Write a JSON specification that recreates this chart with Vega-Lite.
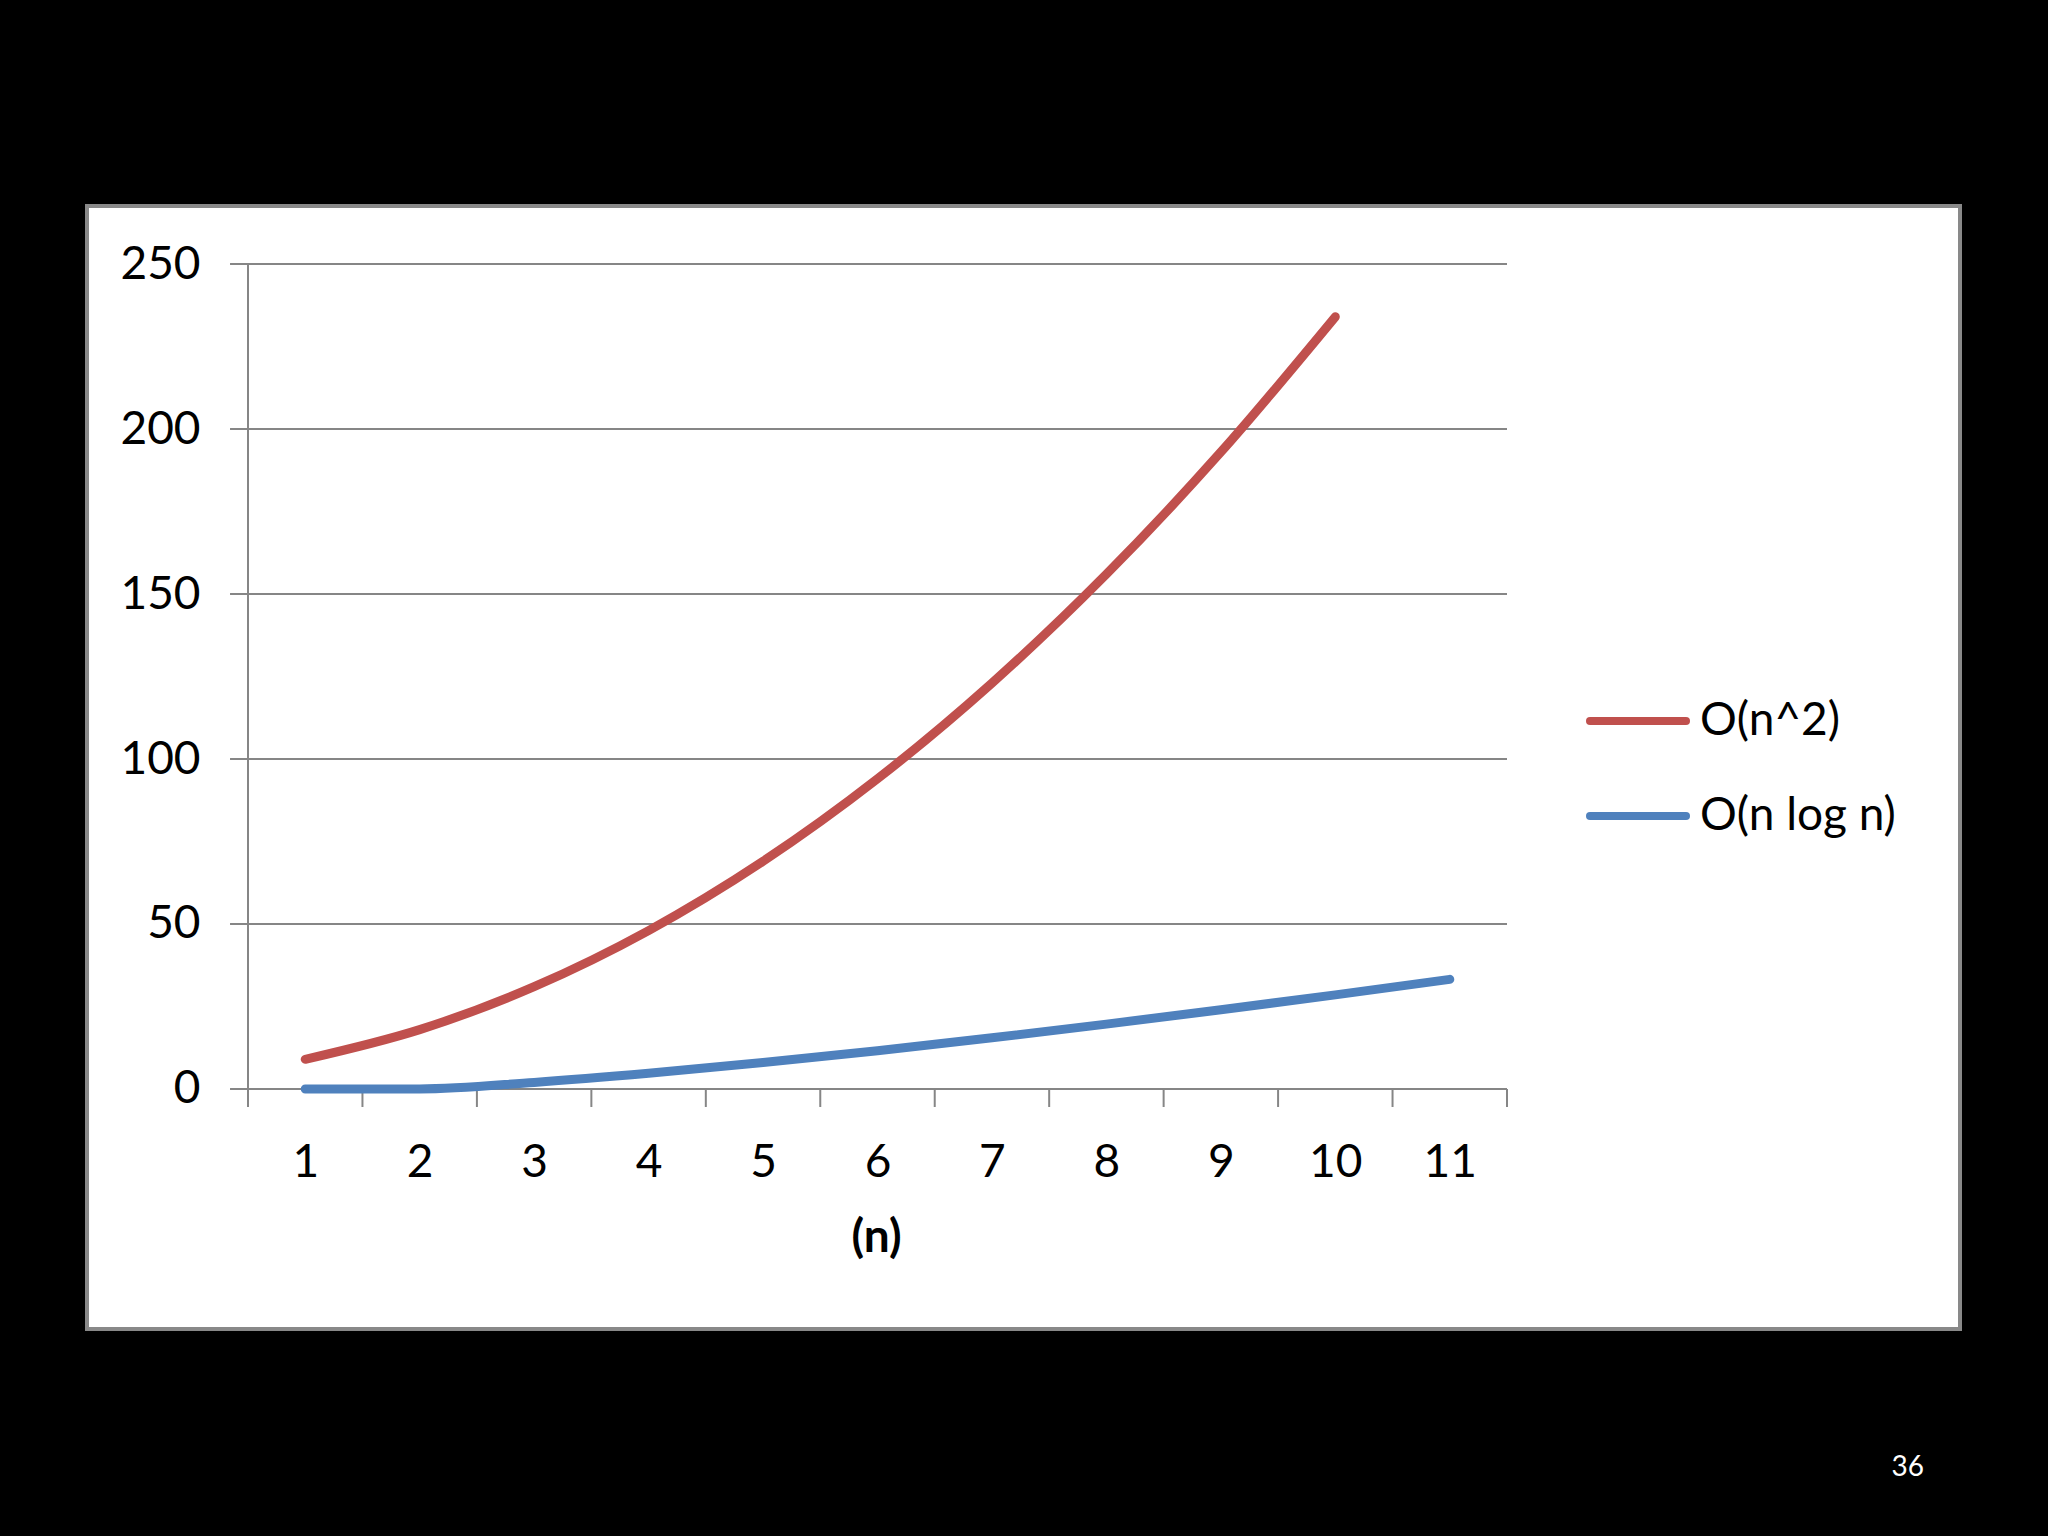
{
  "$schema": "https://vega.github.io/schema/vega-lite/v6.json",
  "width": 1873,
  "height": 1123,
  "autosize": {"type": "none"},
  "padding": {"left": 87, "top": 206, "right": 88, "bottom": 207},
  "background": "#000000",
  "config": {
    "view": {"fill": "#FFFFFF", "stroke": "#898989", "strokeWidth": 4},
    "font": "Lato",
    "axisX": {
      "offset": -240,
      "domain": false, "ticks": false, "tickSize": 0, "grid": false,
      "labelPadding": 87, "labelBaseline": "alphabetic",
      "labelFont": "Lato", "labelFontSize": 46, "labelColor": "#000000",
      "labelFlush": false, "labelOverlap": false,
      "titleFont": "Lato", "titleFontSize": 46, "titleFontWeight": "bold", "titleColor": "#000000",
      "titleX": 789, "titleY": 162, "titleAlign": "center", "titleBaseline": "alphabetic"
    },
    "axisY": {
      "offset": -161,
      "domain": false, "ticks": false, "tickSize": 0, "grid": false,
      "labelPadding": 48, "labelBaseline": "middle",
      "labelFont": "Lato", "labelFontSize": 46, "labelColor": "#000000",
      "labelFlush": false, "labelOverlap": false
    }
  },
  "title": {
    "text": "36",
    "orient": "bottom",
    "anchor": "end",
    "frame": "group",
    "offset": 147,
    "baseline": "alphabetic",
    "dx": -36,
    "color": "#FFFFFF",
    "fontSize": 28,
    "font": "Lato",
    "fontWeight": "normal"
  },
  "datasets": {
    "curves": [
      {"n": 1, "series": "O(n^2)", "value": 9},
      {"n": 2, "series": "O(n^2)", "value": 18},
      {"n": 3, "series": "O(n^2)", "value": 31},
      {"n": 4, "series": "O(n^2)", "value": 48},
      {"n": 5, "series": "O(n^2)", "value": 69},
      {"n": 6, "series": "O(n^2)", "value": 94},
      {"n": 7, "series": "O(n^2)", "value": 123},
      {"n": 8, "series": "O(n^2)", "value": 156},
      {"n": 9, "series": "O(n^2)", "value": 193},
      {"n": 10, "series": "O(n^2)", "value": 234},
      {"n": 1, "series": "O(n log n)", "value": 0},
      {"n": 2, "series": "O(n log n)", "value": 0},
      {"n": 3, "series": "O(n log n)", "value": 2},
      {"n": 4, "series": "O(n log n)", "value": 4.75},
      {"n": 5, "series": "O(n log n)", "value": 8},
      {"n": 6, "series": "O(n log n)", "value": 11.61},
      {"n": 7, "series": "O(n log n)", "value": 15.51},
      {"n": 8, "series": "O(n log n)", "value": 19.65},
      {"n": 9, "series": "O(n log n)", "value": 24},
      {"n": 10, "series": "O(n log n)", "value": 28.53},
      {"n": 11, "series": "O(n log n)", "value": 33.22}
    ],
    "grid": [{"v": 0}, {"v": 50}, {"v": 100}, {"v": 150}, {"v": 200}, {"v": 250}],
    "edges": [{"e": 0.5}, {"e": 1.5}, {"e": 2.5}, {"e": 3.5}, {"e": 4.5}, {"e": 5.5}, {"e": 6.5}, {"e": 7.5}, {"e": 8.5}, {"e": 9.5}, {"e": 10.5}, {"e": 11.5}]
  },
  "layer": [
    {
      "data": {"name": "grid"},
      "mark": {"type": "rule", "color": "#868686", "strokeWidth": 2},
      "encoding": {
        "y": {"field": "v", "type": "quantitative", "scale": {"domain": [-72.73, 267.58], "nice": false, "zero": false}, "title": null, "axis": {"values": [0, 50, 100, 150, 200, 250]}},
        "x": {"datum": 0.343, "type": "quantitative", "scale": {"domain": [-0.9067, 15.458], "nice": false, "zero": false}, "title": "(n)", "axis": {"values": [1, 2, 3, 4, 5, 6, 7, 8, 9, 10, 11]}},
        "x2": {"datum": 11.5}
      }
    },
    {
      "data": {"name": "edges"},
      "mark": {"type": "rule", "color": "#868686", "strokeWidth": 2},
      "encoding": {
        "x": {"field": "e", "type": "quantitative", "scale": {"domain": [-0.9067, 15.458], "nice": false, "zero": false}, "title": "(n)", "axis": {"values": [1, 2, 3, 4, 5, 6, 7, 8, 9, 10, 11]}},
        "y": {"datum": 0, "type": "quantitative", "scale": {"domain": [-72.73, 267.58], "nice": false, "zero": false}, "title": null, "axis": {"values": [0, 50, 100, 150, 200, 250]}},
        "y2": {"datum": -5.45}
      }
    },
    {
      "data": {"name": "grid"},
      "transform": [{"filter": "datum.v == 0"}],
      "mark": {"type": "rule", "color": "#868686", "strokeWidth": 2},
      "encoding": {
        "x": {"datum": 0.5, "type": "quantitative", "scale": {"domain": [-0.9067, 15.458], "nice": false, "zero": false}, "title": "(n)", "axis": {"values": [1, 2, 3, 4, 5, 6, 7, 8, 9, 10, 11]}},
        "y": {"datum": 250, "type": "quantitative", "scale": {"domain": [-72.73, 267.58], "nice": false, "zero": false}, "title": null, "axis": {"values": [0, 50, 100, 150, 200, 250]}},
        "y2": {"datum": -5.45}
      }
    },
    {
      "data": {"name": "curves"},
      "mark": {"type": "line", "interpolate": "monotone", "strokeWidth": 9, "strokeCap": "round", "strokeJoin": "round"},
      "encoding": {
        "x": {"field": "n", "type": "quantitative", "scale": {"domain": [-0.9067, 15.458], "nice": false, "zero": false}, "title": "(n)", "axis": {"values": [1, 2, 3, 4, 5, 6, 7, 8, 9, 10, 11]}},
        "y": {"field": "value", "type": "quantitative", "scale": {"domain": [-72.73, 267.58], "nice": false, "zero": false}, "title": null, "axis": {"values": [0, 50, 100, 150, 200, 250]}},
        "color": {
          "field": "series", "type": "nominal",
          "scale": {"domain": ["O(n^2)", "O(n log n)"], "range": ["#C0504D", "#4F81BD"]},
          "legend": {
            "orient": "none", "legendX": 1499, "legendY": 490,
            "title": null,
            "symbolType": "stroke", "symbolSize": 9216, "symbolStrokeWidth": 8,
            "labelFont": "Lato", "labelFontSize": 46, "labelColor": "#000000", "labelOffset": 10, "labelLimit": 400,
            "clipHeight": 50, "rowPadding": 45, "padding": 0,
            "encode": {"symbols": {"update": {"strokeCap": {"value": "round"}}}}
          }
        }
      }
    }
  ]
}
